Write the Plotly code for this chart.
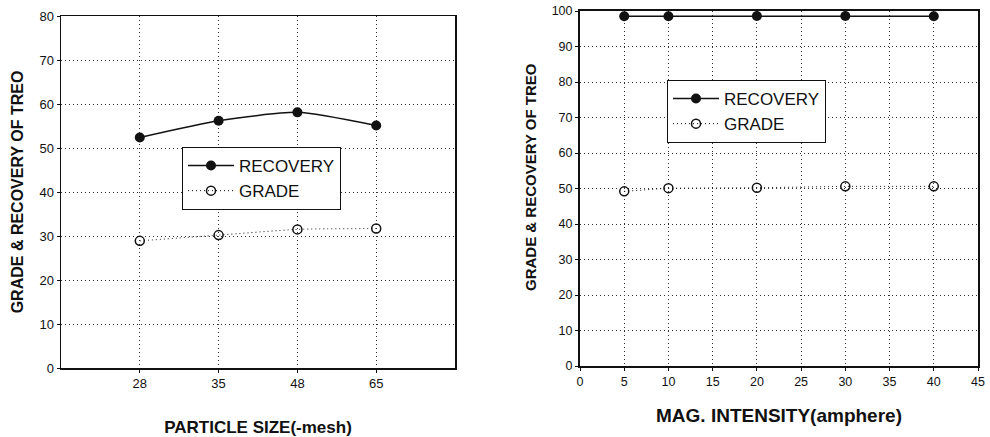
import plotly.graph_objects as go

# ---- data ----
particle_sizes = ["28", "35", "48", "65"]
ps_recovery = [52.4, 56.2, 58.1, 55.1]
ps_grade = [28.9, 30.2, 31.5, 31.7]

mag_intensity = [5, 10, 20, 30, 40]
mi_recovery = [98.5, 98.5, 98.6, 98.6, 98.5]
mi_grade = [49.2, 50.1, 50.2, 50.6, 50.6]

FONT = "Liberation Sans, Arial, sans-serif"
INK = "#111111"

W, H, OFF = 990, 437, 0  # body margin removed by post_script below


def px_x(v):
    return (v - OFF) / W


def px_y(v):
    return 1 - (v - OFF) / H


fig = go.Figure()

# Left chart
fig.add_trace(go.Scatter(
    x=particle_sizes, y=ps_recovery, name="RECOVERY", mode="lines+markers",
    line=dict(color=INK, width=1.5, shape="spline", smoothing=0.6),
    marker=dict(symbol="circle", size=10, color=INK),
    xaxis="x", yaxis="y", legend="legend"))
fig.add_trace(go.Scatter(
    x=particle_sizes, y=ps_grade, name="GRADE", mode="lines+markers",
    line=dict(color=INK, width=1, dash="1px,3px", shape="spline", smoothing=0.6),
    marker=dict(symbol="circle-open", size=9, color=INK, line=dict(width=1.5, color=INK)),
    xaxis="x", yaxis="y", legend="legend"))

# Right chart
fig.add_trace(go.Scatter(
    x=mag_intensity, y=mi_recovery, name="RECOVERY", mode="lines+markers",
    line=dict(color=INK, width=1.5),
    marker=dict(symbol="circle", size=10, color=INK),
    xaxis="x2", yaxis="y2", legend="legend2"))
fig.add_trace(go.Scatter(
    x=mag_intensity, y=mi_grade, name="GRADE", mode="lines+markers",
    line=dict(color=INK, width=1, dash="1px,3px"),
    marker=dict(symbol="circle-open", size=9, color=INK, line=dict(width=1.5, color=INK)),
    xaxis="x2", yaxis="y2", legend="legend2"))

grid = dict(showgrid=True, gridcolor="#333333", gridwidth=1, griddash="1px,3px")


def axline(size):
    return dict(showline=True, linecolor=INK, mirror=True, zeroline=False,
                automargin=False, ticklabeloverflow="allow",
                ticks="outside", ticklen=3, tickcolor=INK,
                tickfont=dict(family=FONT, size=size, color=INK))


legend_style = dict(bgcolor="white", bordercolor=INK, borderwidth=1,
                    font=dict(family=FONT, size=17, color=INK),
                    itemwidth=46,
                    xanchor="left", yanchor="top", tracegroupgap=0)

fig.update_layout(
    width=W, height=H,
    margin=dict(l=0, r=0, t=0, b=0, autoexpand=False),
    paper_bgcolor="white", plot_bgcolor="white",
    font=dict(family=FONT, color=INK),
    hovermode=False,
    xaxis=dict(domain=[px_x(61), px_x(455)], type="category", range=[-1, 4],
               linewidth=1.5, **grid, **axline(13),
               title=dict(text="<b>PARTICLE SIZE(-mesh)</b>", font=dict(size=17, family=FONT),
                          standoff=33)),
    yaxis=dict(domain=[px_y(368), px_y(16)], range=[0, 80], dtick=10, anchor="x",
               linewidth=1.5, **grid, **axline(13),
               title=dict(text="<b>GRADE & RECOVERY OF TREO</b>", font=dict(size=16, family=FONT),
                          standoff=12)),
    xaxis2=dict(domain=[px_x(580), px_x(978)], range=[0, 45], dtick=5, anchor="y2",
                linewidth=2, **grid, **axline(12.5),
                title=dict(text="<b>MAG. INTENSITY(amphere)</b>", font=dict(size=19, family=FONT),
                           standoff=21)),
    yaxis2=dict(domain=[px_y(366), px_y(11)], range=[0, 100], dtick=10, anchor="x2",
                linewidth=2, **grid, **axline(12.5)),
    legend=dict(x=px_x(182), y=px_y(147), **legend_style),
    legend2=dict(x=px_x(667), y=px_y(80), **legend_style),
    annotations=[dict(
        text="<b>GRADE & RECOVERY OF TREO</b>", textangle=-90,
        xref="paper", yref="paper", x=px_x(531), y=px_y(177),
        xanchor="center", yanchor="middle", showarrow=False,
        font=dict(size=15, family=FONT, color=INK))],
)

fig.write_html("out.html",
               config={"displayModeBar": False, "staticPlot": True},
               post_script="document.body.style.margin='0';document.body.style.overflow='hidden';")
